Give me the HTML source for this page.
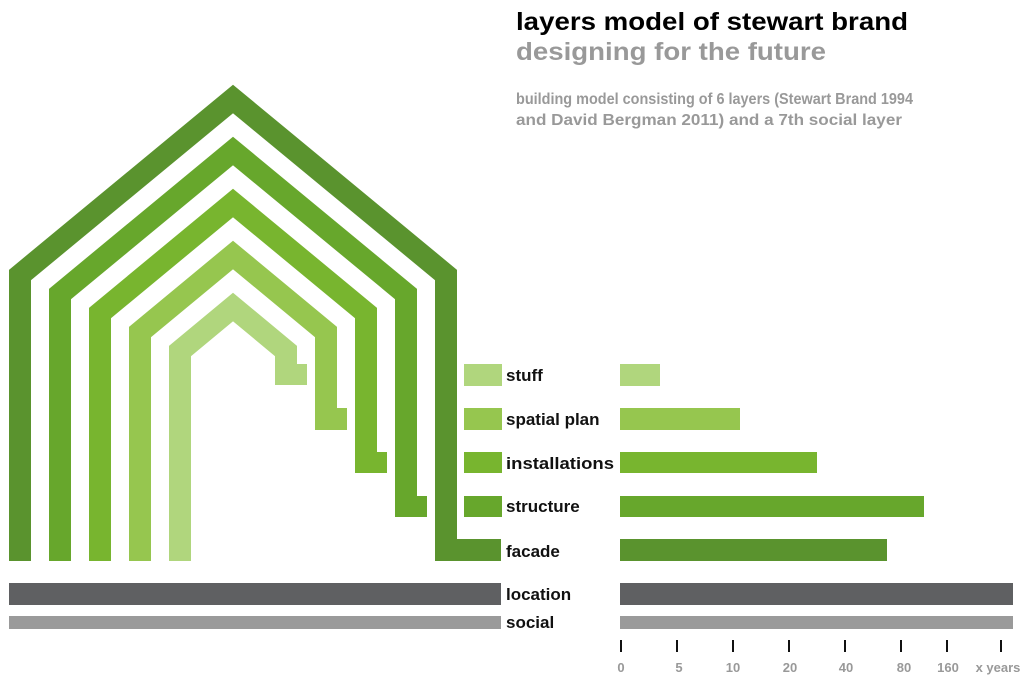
<!DOCTYPE html>
<html><head><meta charset="utf-8"><style>
html,body{margin:0;padding:0;background:#fff;}
svg{display:block;}
text{font-family:"Liberation Sans",Arial,sans-serif;font-weight:bold;}
</style></head><body>
<svg width="1024" height="684" viewBox="0 0 1024 684" xmlns="http://www.w3.org/2000/svg">
<text x="516" y="30" font-size="25" fill="#000" textLength="392" lengthAdjust="spacingAndGlyphs">layers model of stewart brand</text>
<text x="516" y="60" font-size="25" fill="#999" textLength="310" lengthAdjust="spacingAndGlyphs">designing for the future</text>
<text x="516" y="104" font-size="15.5" fill="#999" textLength="397" lengthAdjust="spacingAndGlyphs">building model consisting of 6 layers (Stewart Brand 1994</text>
<text x="516" y="125" font-size="15.5" fill="#999" textLength="386" lengthAdjust="spacingAndGlyphs">and David Bergman 2011) and a 7th social layer</text>

<g fill="none" stroke-width="22" stroke-linejoin="miter" stroke-miterlimit="10" stroke-linecap="butt">
<polyline stroke="#5a932e" points="20,561 20,275 233,99 446,275 446,561"/>
<polyline stroke="#67a72c" points="60,561 60,294 233,151 406,294 406,517"/>
<polyline stroke="#78b52f" points="100,561 100,313 233,203 366,313 366,473"/>
<polyline stroke="#96c64f" points="140,561 140,332 233,255 326,332 326,430"/>
<polyline stroke="#b0d67d" points="180,561 180,351 233,307 286,351 286,385"/>
</g>
<rect x="435" y="539" width="66" height="22" fill="#5a932e"/>
<rect x="395" y="496" width="32" height="21" fill="#67a72c"/>
<rect x="355" y="452" width="32" height="21" fill="#78b52f"/>
<rect x="315" y="408" width="32" height="22" fill="#96c64f"/>
<rect x="275" y="364" width="32" height="21" fill="#b0d67d"/>

<rect x="464" y="364" width="38" height="22" fill="#b0d67d"/>
<rect x="464" y="408" width="38" height="22" fill="#96c64f"/>
<rect x="464" y="452" width="38" height="21" fill="#78b52f"/>
<rect x="464" y="496" width="38" height="21" fill="#67a72c"/>

<g font-size="17" fill="#111">
<text x="506" y="381">stuff</text>
<text x="506" y="425">spatial plan</text>
<text x="506" y="469" textLength="108" lengthAdjust="spacingAndGlyphs">installations</text>
<text x="506" y="512">structure</text>
<text x="506" y="557">facade</text>
<text x="506" y="600">location</text>
<text x="506" y="628">social</text>
</g>

<rect x="620" y="364" width="40" height="22" fill="#b0d67d"/>
<rect x="620" y="408" width="120" height="22" fill="#96c64f"/>
<rect x="620" y="452" width="197" height="21" fill="#78b52f"/>
<rect x="620" y="496" width="304" height="21" fill="#67a72c"/>
<rect x="620" y="539" width="267" height="22" fill="#5a932e"/>

<rect x="9" y="583" width="492" height="22" fill="#5f6062"/>
<rect x="620" y="583" width="393" height="22" fill="#5f6062"/>
<rect x="9" y="616" width="492" height="13" fill="#9a9a9a"/>
<rect x="620" y="616" width="393" height="13" fill="#9a9a9a"/>

<g fill="#111">
<rect x="620" y="640" width="2" height="12"/>
<rect x="676" y="640" width="2" height="12"/>
<rect x="732" y="640" width="2" height="12"/>
<rect x="788" y="640" width="2" height="12"/>
<rect x="844" y="640" width="2" height="12"/>
<rect x="900" y="640" width="2" height="12"/>
<rect x="946" y="640" width="2" height="12"/>
<rect x="1000" y="640" width="2" height="12"/>
</g>
<g font-size="13" fill="#999" text-anchor="middle">
<text x="621" y="672">0</text>
<text x="679" y="672">5</text>
<text x="733" y="672">10</text>
<text x="790" y="672">20</text>
<text x="846" y="672">40</text>
<text x="904" y="672">80</text>
<text x="948" y="672">160</text>
<text x="998" y="672">x years</text>
</g>
</svg>
</body></html>
